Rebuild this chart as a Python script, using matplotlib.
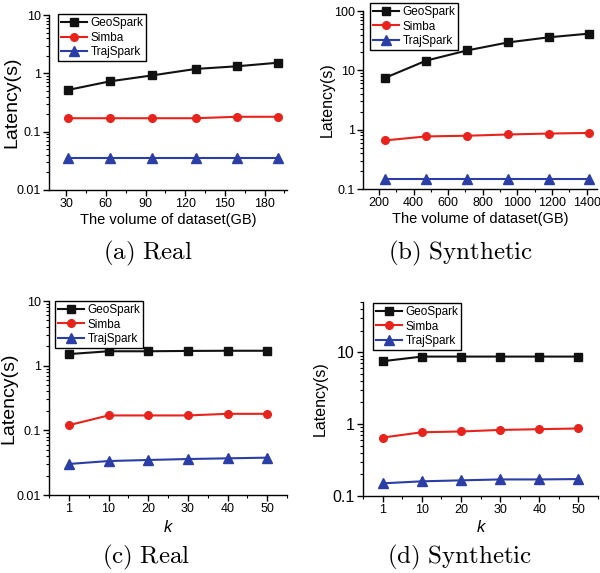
import matplotlib
matplotlib.use("Agg")
import matplotlib.pyplot as plt
from matplotlib.ticker import LogLocator, NullFormatter, FixedLocator, MultipleLocator

plt.rcParams['font.family'] = ['Liberation Sans', 'DejaVu Sans']
plt.rcParams['mathtext.fontset'] = 'cm'

series = ["GeoSpark", "Simba", "TrajSpark"]
colors = ["#111111", "#e8231c", "#2a3ea6"]
markers = ["s", "o", "^"]

# (a) Real, volume
a_x = [31.6, 63.2, 94.8, 128, 159, 190]
a_geo = [0.52, 0.73, 0.92, 1.19, 1.32, 1.52]
a_simba = [0.17, 0.17, 0.17, 0.17, 0.18, 0.18]
a_traj = [0.035, 0.035, 0.035, 0.035, 0.035, 0.035]

# (b) Synthetic, volume
b_x = [237, 474, 711, 948, 1180, 1412]
b_geo = [7.5, 14.6, 21.7, 29.6, 36.0, 41.5]
b_simba = [0.66, 0.77, 0.79, 0.83, 0.86, 0.88]
b_traj = [0.15, 0.15, 0.15, 0.15, 0.15, 0.15]

# (c) Real, k
k_labels = ["1", "10", "20", "30", "40", "50"]
c_geo = [1.51, 1.67, 1.67, 1.69, 1.70, 1.70]
c_simba = [0.12, 0.17, 0.17, 0.17, 0.18, 0.18]
c_traj = [0.0302, 0.0335, 0.0348, 0.036, 0.0369, 0.0378]

# (d) Synthetic, k
d_geo = [7.5, 8.7, 8.7, 8.7, 8.7, 8.7]
d_simba = [0.65, 0.77, 0.79, 0.83, 0.85, 0.87]
d_traj = [0.15, 0.16, 0.165, 0.17, 0.17, 0.172]

captions = [r"$\mathrm{(a)\ Real}$", r"$\mathrm{(b)\ Synthetic}$",
            r"$\mathrm{(c)\ Real}$", r"$\mathrm{(d)\ Synthetic}$"]

fig = plt.figure(figsize=(6.0, 5.73), dpi=100)
W, H = 600, 573

def ax_at(l, t, r, b):
    return fig.add_axes([l / W, 1 - b / H, (r - l) / W, (b - t) / H])

def style(ax):
    ax.set_yscale("log")
    for s in ["top", "right"]:
        ax.spines[s].set_visible(False)
    ax.spines["left"].set_linewidth(1.0)
    ax.spines["bottom"].set_linewidth(1.0)
    ax.tick_params(which="major", direction="out", length=4, width=1, labelsize=9, pad=2)
    ax.tick_params(which="minor", direction="out", length=2, width=0.8)
    ax.yaxis.set_minor_locator(LogLocator(base=10, subs=range(2, 10), numticks=20))
    ax.yaxis.set_minor_formatter(NullFormatter())

def draw(ax, x, ys):
    handles = []
    for y, c, m, name in zip(ys, colors, markers, series):
        ms = 6.5 if m == "^" else 5.5
        h, = ax.plot(x, y, color=c, marker=m, markersize=ms, linewidth=1.5, label=name)
        handles.append(h)
    return handles

def legend(ax, xa, ya):
    ax.legend(loc="upper left", bbox_to_anchor=(xa, ya), fontsize=8.5, frameon=True,
              fancybox=False, edgecolor="black", framealpha=1, handlelength=2.2,
              handletextpad=0.3, borderpad=0.25, labelspacing=0.22, borderaxespad=0)

def ylab(ax, size, xc):
    ax.set_ylabel("Latency(s)", fontsize=size)
    ax.yaxis.set_label_coords(xc, 0.5)

# (a)
ax = ax_at(49, 15, 287, 190)
style(ax)
draw(ax, a_x, [a_geo, a_simba, a_traj])
ax.set_xlim(17, 197)
ax.set_ylim(0.01, 10)
ax.xaxis.set_major_locator(MultipleLocator(30))
ax.xaxis.set_minor_locator(MultipleLocator(15))
ax.set_yticks([0.01, 0.1, 1, 10])
ax.set_yticklabels(["0.01", "0.1", "1", "10"])
ax.set_xlabel("The volume of dataset(GB)", fontsize=10.5, labelpad=2)
ylab(ax, 14, -0.122)
legend(ax, 0.038, 1.005)

# (b)
ax = ax_at(363, 11, 597, 189)
style(ax)
draw(ax, b_x, [b_geo, b_simba, b_traj])
ax.set_xlim(108, 1460)
ax.set_ylim(0.1, 100)
ax.xaxis.set_major_locator(MultipleLocator(200))
ax.xaxis.set_minor_locator(MultipleLocator(100))
ax.set_yticks([0.1, 1, 10, 100])
ax.set_yticklabels(["0.1", "1", "10", "100"])
ax.set_xlabel("The volume of dataset(GB)", fontsize=10.5, labelpad=2)
ylab(ax, 11.5, -0.12)
legend(ax, 0.03, 1.045)

# (c)
ax = ax_at(49, 301, 287, 495)
style(ax)
xi = list(range(len(k_labels)))
draw(ax, xi, [c_geo, c_simba, c_traj])
ax.set_xlim(-0.5, 5.5)
ax.set_ylim(0.01, 10)
ax.xaxis.set_major_locator(FixedLocator(xi))
ax.set_xticklabels(k_labels)
ax.xaxis.set_minor_locator(FixedLocator([i + 0.5 for i in range(-1, 6)]))
ax.set_yticks([0.01, 0.1, 1, 10])
ax.set_yticklabels(["0.01", "0.1", "1", "10"])
ax.set_xlabel("k", fontsize=12, style="italic", labelpad=3)
ylab(ax, 14, -0.134)
legend(ax, 0.025, 1.0)

# (d)
ax = ax_at(363, 302, 598, 496)
style(ax)
draw(ax, xi, [d_geo, d_simba, d_traj])
ax.set_xlim(-0.5, 5.5)
ax.set_ylim(0.1, 50)
ax.xaxis.set_major_locator(FixedLocator(xi))
ax.set_xticklabels(k_labels)
ax.xaxis.set_minor_locator(FixedLocator([i + 0.5 for i in range(-1, 6)]))
ax.set_yticks([0.1, 1, 10])
ax.set_yticklabels(["0.1", "1", "10"])
ax.tick_params(axis="y", which="major", labelsize=11.5)
ax.set_xlabel("k", fontsize=12, style="italic", labelpad=3)
ylab(ax, 11.5, -0.148)
legend(ax, 0.043, 0.995)

# captions
fig.text(148 / W, 1 - 253 / H, captions[0], fontsize=18, ha="center", va="center")
fig.text(461 / W, 1 - 253 / H, captions[1], fontsize=18, ha="center", va="center")
fig.text(146 / W, 1 - 557 / H, captions[2], fontsize=18, ha="center", va="center")
fig.text(460 / W, 1 - 557 / H, captions[3], fontsize=18, ha="center", va="center")

fig.savefig("out.png", dpi=100)
